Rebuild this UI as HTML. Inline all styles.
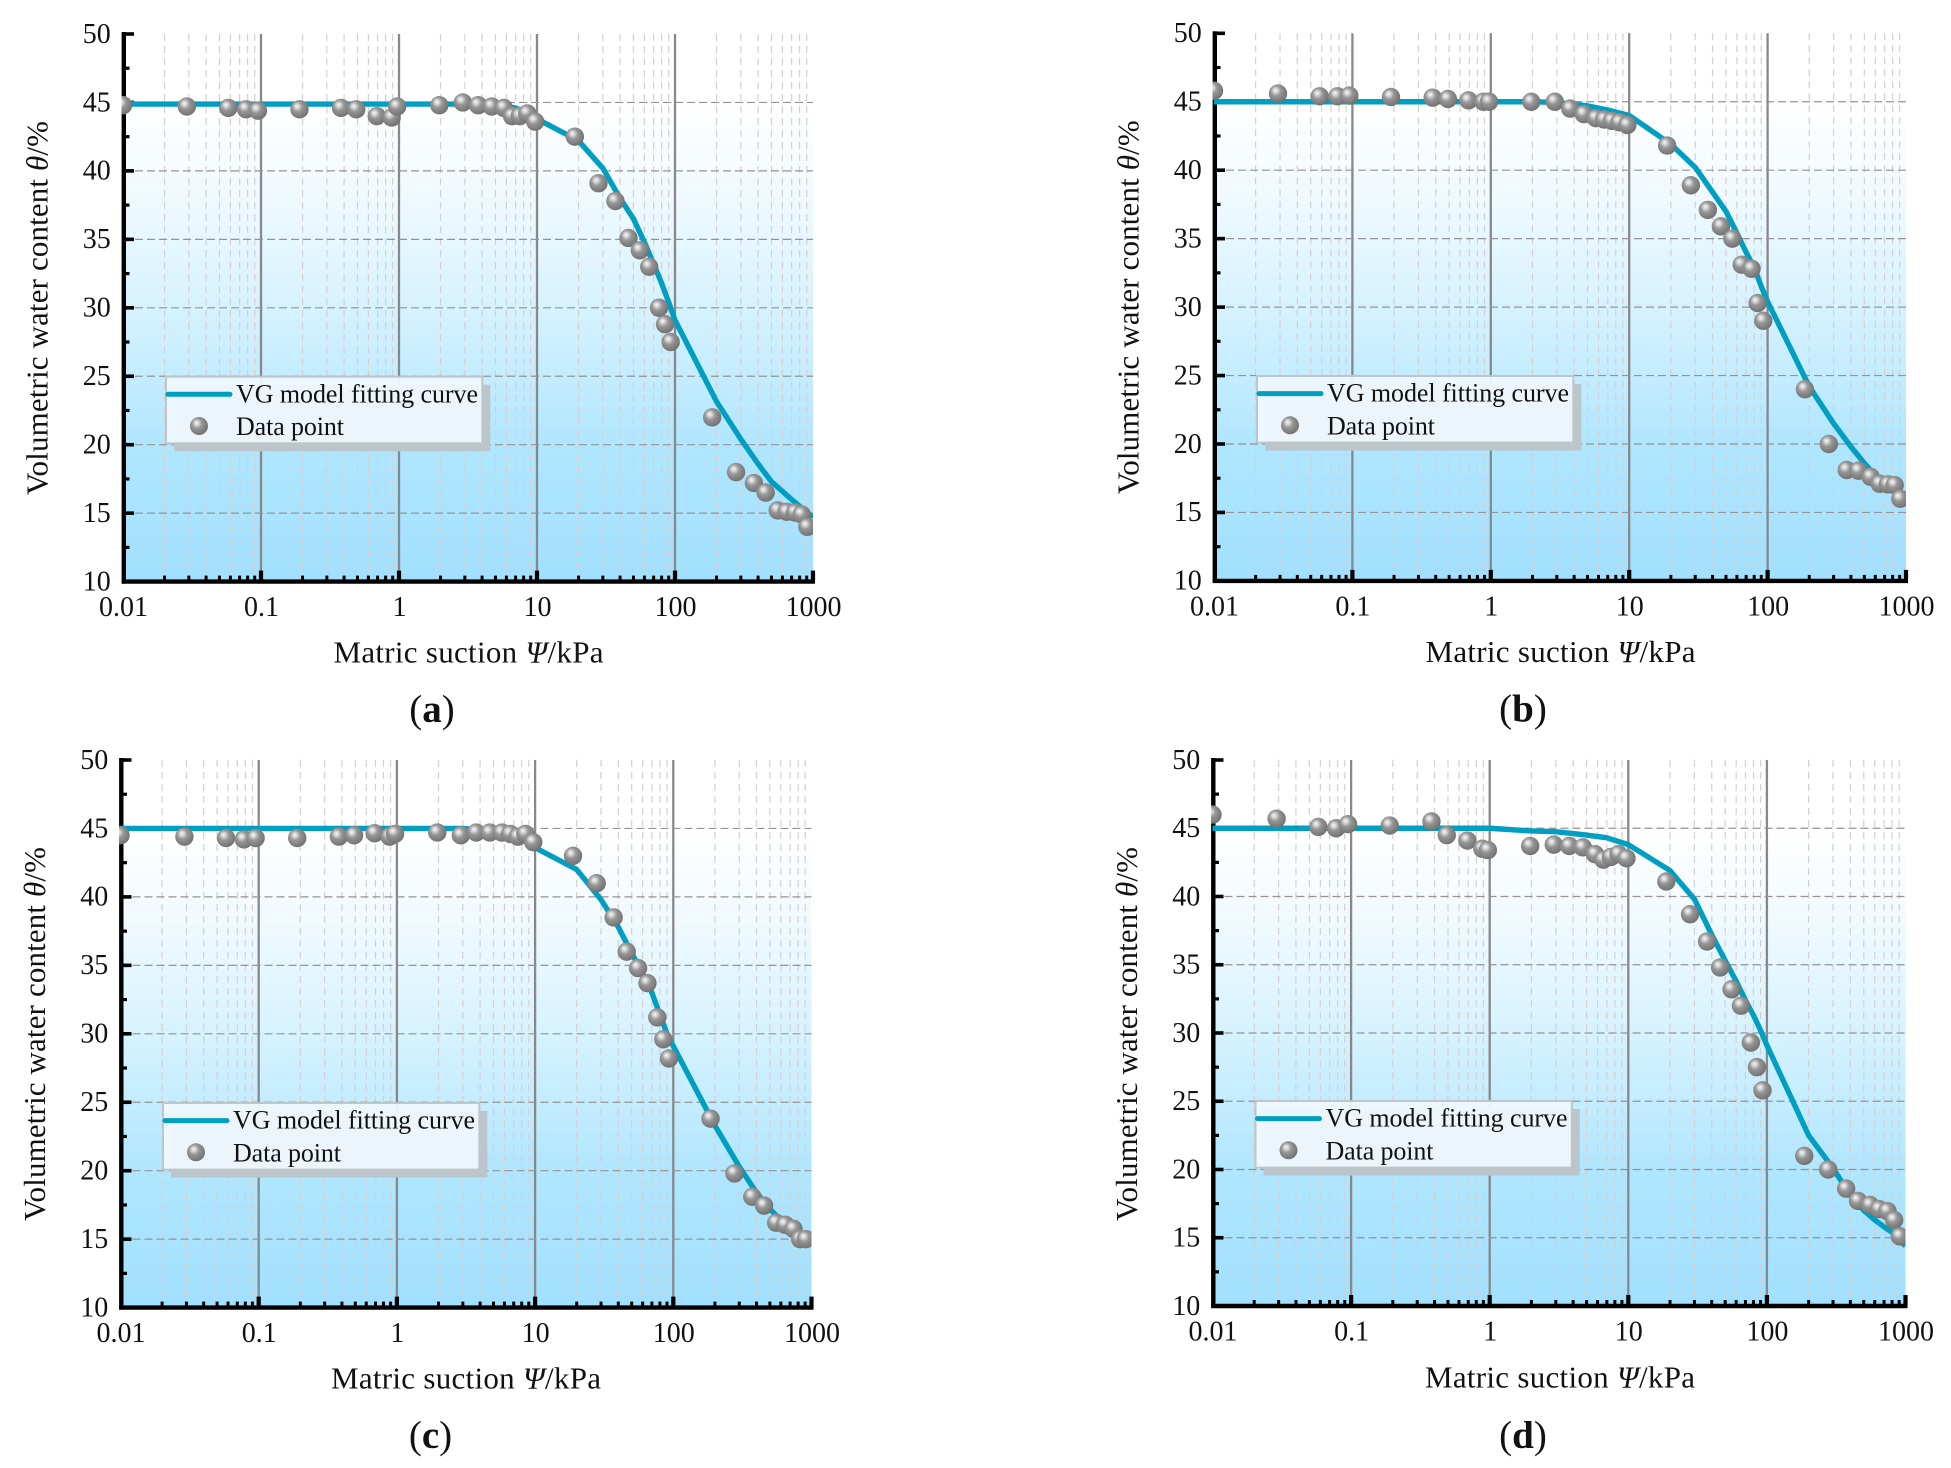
<!DOCTYPE html>
<html lang="en">
<head>
<meta charset="utf-8">
<title>Soil water characteristic curves</title>
<style>
  html, body { margin: 0; padding: 0; background: #fff; }
  svg { display: block; font-family: "Liberation Serif", serif; fill: #111; }
  .tick { font-size: 28px; }
  .title { font-size: 31px; }
  .legend-text { font-size: 26px; }
  .caption { font-size: 39px; }
</style>
</head>
<body>
<svg xmlns="http://www.w3.org/2000/svg" width="1951" height="1468" viewBox="0 0 1951 1468">
  <defs>
    <linearGradient id="plot-fill" x1="0" y1="0" x2="0" y2="1">
      <stop offset="0" stop-color="#ffffff"/>
      <stop offset="0.125" stop-color="#ffffff"/>
      <stop offset="0.25" stop-color="#f5fbff"/>
      <stop offset="0.375" stop-color="#e6f7ff"/>
      <stop offset="0.5" stop-color="#d6f2ff"/>
      <stop offset="0.625" stop-color="#c4ecff"/>
      <stop offset="0.75" stop-color="#b0e6ff"/>
      <stop offset="1" stop-color="#a2e0ff"/>
    </linearGradient>
    <radialGradient id="sphere" cx="0.42" cy="0.4" r="0.62" fx="0.36" fy="0.32">
      <stop offset="0" stop-color="#f6f6f6"/>
      <stop offset="0.18" stop-color="#d8d8d8"/>
      <stop offset="0.45" stop-color="#969696"/>
      <stop offset="1" stop-color="#707070"/>
    </radialGradient>
  </defs>

  <g id="panel-a" transform="translate(123,34)">
    <g class="plot-layer"></g>
    <text class="title" x="-75.3" y="274" text-anchor="middle" textLength="374" transform="rotate(-90 -75.3 274)">Volumetric water content <tspan font-style="italic">θ</tspan>/%</text>
    <text class="title" x="210.5" y="628.7" textLength="270">Matric suction <tspan font-style="italic">Ψ</tspan>/kPa</text>
    <text class="caption" x="309" y="688" text-anchor="middle">(<tspan font-weight="bold">a</tspan>)</text>
    <g transform="translate(43,342.7)">
      <rect x="8" y="8" width="316.3" height="66.6" fill="#bcc5cb"/>
      <rect x="0" y="0" width="316.3" height="66.6" fill="#f0f9fe" fill-opacity="0.93" stroke="#bfc6ca" stroke-width="2"/>
      <line x1="2" y1="17.6" x2="64" y2="17.6" stroke="#009fc2" stroke-width="5" stroke-linecap="round"/>
      <circle cx="33" cy="49.3" r="9" fill="url(#sphere)"/>
      <text class="legend-text" x="70" y="25.6" textLength="242">VG model fitting curve</text>
      <text class="legend-text" x="70" y="58.3" textLength="108">Data point</text>
    </g>
  </g>

  <g id="panel-b" transform="translate(1214,33.3)">
    <g class="plot-layer"></g>
    <text class="title" x="-75.3" y="274" text-anchor="middle" textLength="374" transform="rotate(-90 -75.3 274)">Volumetric water content <tspan font-style="italic">θ</tspan>/%</text>
    <text class="title" x="211.5" y="628.7" textLength="270">Matric suction <tspan font-style="italic">Ψ</tspan>/kPa</text>
    <text class="caption" x="309" y="688" text-anchor="middle">(<tspan font-weight="bold">b</tspan>)</text>
    <g transform="translate(43,342.7)">
      <rect x="8" y="8" width="316.3" height="66.6" fill="#bcc5cb"/>
      <rect x="0" y="0" width="316.3" height="66.6" fill="#f0f9fe" fill-opacity="0.93" stroke="#bfc6ca" stroke-width="2"/>
      <line x1="2" y1="17.6" x2="64" y2="17.6" stroke="#009fc2" stroke-width="5" stroke-linecap="round"/>
      <circle cx="33" cy="49.3" r="9" fill="url(#sphere)"/>
      <text class="legend-text" x="70" y="25.6" textLength="242">VG model fitting curve</text>
      <text class="legend-text" x="70" y="58.3" textLength="108">Data point</text>
    </g>
  </g>

  <g id="panel-c" transform="translate(120.5,760)">
    <g class="plot-layer"></g>
    <text class="title" x="-75.3" y="274" text-anchor="middle" textLength="374" transform="rotate(-90 -75.3 274)">Volumetric water content <tspan font-style="italic">θ</tspan>/%</text>
    <text class="title" x="210.5" y="628.7" textLength="270">Matric suction <tspan font-style="italic">Ψ</tspan>/kPa</text>
    <text class="caption" x="310" y="688" text-anchor="middle">(<tspan font-weight="bold">c</tspan>)</text>
    <g transform="translate(42.5,343)">
      <rect x="8" y="8" width="316.3" height="66.6" fill="#bcc5cb"/>
      <rect x="0" y="0" width="316.3" height="66.6" fill="#f0f9fe" fill-opacity="0.93" stroke="#bfc6ca" stroke-width="2"/>
      <line x1="2" y1="17.6" x2="64" y2="17.6" stroke="#009fc2" stroke-width="5" stroke-linecap="round"/>
      <circle cx="33" cy="49.3" r="9" fill="url(#sphere)"/>
      <text class="legend-text" x="70" y="25.6" textLength="242">VG model fitting curve</text>
      <text class="legend-text" x="70" y="58.3" textLength="108">Data point</text>
    </g>
  </g>

  <g id="panel-d" transform="translate(1212.5,760)">
    <g class="plot-layer"></g>
    <text class="title" x="-75.3" y="274" text-anchor="middle" textLength="374" transform="rotate(-90 -75.3 274)">Volumetric water content <tspan font-style="italic">θ</tspan>/%</text>
    <text class="title" x="212.5" y="627.7" textLength="270">Matric suction <tspan font-style="italic">Ψ</tspan>/kPa</text>
    <text class="caption" x="310.5" y="688" text-anchor="middle">(<tspan font-weight="bold">d</tspan>)</text>
    <g transform="translate(43,341)">
      <rect x="8" y="8" width="316.3" height="66.6" fill="#bcc5cb"/>
      <rect x="0" y="0" width="316.3" height="66.6" fill="#f0f9fe" fill-opacity="0.93" stroke="#bfc6ca" stroke-width="2"/>
      <line x1="2" y1="17.6" x2="64" y2="17.6" stroke="#009fc2" stroke-width="5" stroke-linecap="round"/>
      <circle cx="33" cy="49.3" r="9" fill="url(#sphere)"/>
      <text class="legend-text" x="70" y="25.6" textLength="242">VG model fitting curve</text>
      <text class="legend-text" x="70" y="58.3" textLength="108">Data point</text>
    </g>
  </g>
</svg>

<script>
// ---- Data ----
const xDecades = [0.01, 0.1, 1, 10, 100, 1000];
const xTickLabels = ['0.01', '0.1', '1', '10', '100', '1000'];
const xMinorFactors = [2, 3, 4, 5, 6, 7, 8, 9];
const yMajorTicks = [10, 15, 20, 25, 30, 35, 40, 45, 50];
const yMinorTicks = [12.5, 17.5, 22.5, 27.5, 32.5, 37.5, 42.5, 47.5];
const yGridLines = [15, 20, 25, 30, 35, 40, 45];

const suctionPoints = [0.01,0.029,0.058,0.078,0.095,0.19,0.38,0.49,0.69,0.885,0.97,1.96,2.9,3.75,4.7,5.75,6.6,7.5,8.5,9.7,18.8,27.9,37,46,55.6,65,76.6,84.7,93,186,277,373,454,555,645,741,828,910];
const pointsA = [44.8,44.7,44.6,44.5,44.4,44.5,44.6,44.5,44,43.9,44.7,44.8,45,44.8,44.7,44.6,44,44,44.2,43.6,42.5,39.1,37.8,35.1,34.2,33,30,28.8,27.5,22,18,17.2,16.5,15.2,15.1,15.05,14.9,14];
const pointsB = [45.8,45.6,45.4,45.4,45.45,45.35,45.3,45.2,45.1,45,45,45,45,44.5,44.1,43.8,43.7,43.6,43.5,43.3,41.8,38.9,37.1,35.9,35,33.1,32.8,30.3,29,24,20,18.1,18.05,17.6,17.1,17.05,17,16];
const pointsC = [44.5,44.4,44.3,44.2,44.3,44.3,44.4,44.5,44.65,44.4,44.6,44.7,44.5,44.7,44.7,44.7,44.6,44.4,44.6,44,43,41,38.5,36,34.8,33.7,31.2,29.6,28.2,23.8,19.8,18.1,17.45,16.2,16.05,15.75,15,15];
const pointsD = [46,45.7,45.1,45,45.3,45.2,45.5,44.5,44.1,43.5,43.4,43.7,43.8,43.7,43.6,43.1,42.7,42.9,43.1,42.8,41.1,38.7,36.7,34.8,33.2,32,29.3,27.5,25.8,21,20,18.6,17.7,17.4,17.1,16.95,16.3,15.1];

const suctionCurve = [0.01,0.1,1,2,3,5,7,10,20,30,40,50,60,70,80,90,100,200,300,400,500,600,700,800,1000];
const curveA = [44.88,44.88,44.88,44.88,44.88,44.8,44.6,43.8,42.2,40.2,38,36.5,34.8,33.2,31.8,30.4,29.1,23.15,20.4,18.6,17.3,16.6,16,15.5,14.7];
const curveB = [45,45,45,45,44.95,44.7,44.4,44,41.9,40.2,38.4,37,35.4,34,32.9,31.5,30.4,24.2,21.5,19.8,18.6,17.7,17.1,16.7,15.9];
const curveC = [45,45,45,45,45,44.8,44.6,43.6,42,39.8,37.8,35.9,34.4,33,31.4,30,29.1,23.3,20.3,18.4,17.2,16.4,15.9,15.5,15];
const curveD = [45,45,45,44.8,44.75,44.5,44.3,43.8,41.9,39.8,37.2,35.3,33.8,32.4,31.3,30.2,29.1,22.5,20.1,18.1,17,16.3,15.8,15.4,14.4];

// ---- Drawing ----
const NS = 'http://www.w3.org/2000/svg';
const panelScales = {
  a: { decade: 138, unit: 13.69 },
  b: { decade: 138.4, unit: 13.69 },
  c: { decade: 138.2, unit: 13.69 },
  d: { decade: 138.6, unit: 13.65 }
};

function node(tag, parent, attrs) {
  const el = document.createElementNS(NS, tag);
  for (const k in attrs) el.setAttribute(k, attrs[k]);
  parent.appendChild(el);
  return el;
}

function drawPanel(key, points, curve) {
  const s = panelScales[key];
  const xPos = v => Math.log10(v / 0.01) * s.decade;
  const yPos = v => (50 - v) * s.unit;
  const W = xPos(1000), H = yPos(10);
  const layer = document.querySelector('#panel-' + key + ' .plot-layer');

  const clipId = 'clip-' + key;
  const clip = node('clipPath', layer, { id: clipId });
  node('rect', clip, { x: -1.5, y: -2, width: W + 1.5, height: H + 2 });

  const bg = node('rect', layer, { x: 0, y: 0, width: W, height: H, fill: 'url(#plot-fill)' });
  
  

  // minor vertical grid
  xDecades.slice(0, -1).forEach(d => {
    xMinorFactors.forEach(f => {
      const x = xPos(d * f);
      const g = node('line', layer, { x1: x, y1: 0, x2: x, y2: H, stroke: '#d4d0d0', 'stroke-width': 1.2, 'stroke-dasharray': '7 5' });
      
      
    });
  });
  // major vertical grid
  xDecades.slice(1, -1).forEach(d => {
    const x = xPos(d);
    const g = node('line', layer, { x1: x, y1: 0, x2: x, y2: H, stroke: '#888888', 'stroke-width': 2.3 });
    
    
  });
  // horizontal grid
  yGridLines.forEach(v => {
    const y = yPos(v);
    const g = node('line', layer, { x1: 0, y1: y, x2: W, y2: y, stroke: '#949494', 'stroke-width': 1.2, 'stroke-dasharray': '8 4' });
    
    
  });

  // axes
  const leftAxis = node('line', layer, { x1: 0.8, y1: -2, x2: 0.8, y2: H + 2, stroke: '#000', 'stroke-width': 4.4 });
  
  
  const bottomAxis = node('line', layer, { x1: -1.3, y1: H, x2: W + 2, y2: H, stroke: '#000', 'stroke-width': 4.4 });
  
  

  yMajorTicks.forEach(v => {
    const y = yPos(v);
    const t = node('line', layer, { x1: 1, y1: y, x2: 11, y2: y, stroke: '#000', 'stroke-width': 3.6 });
    
    
    const label = node('text', layer, { class: 'tick', x: -12.3, y: y + 8.8, 'text-anchor': 'end' });
    label.textContent = String(v);
    
    
  });
  yMinorTicks.forEach(v => {
    const y = yPos(v);
    const t = node('line', layer, { x1: 1, y1: y, x2: 6.5, y2: y, stroke: '#000', 'stroke-width': 3.2 });
    
    
  });
  xDecades.forEach((d, i) => {
    const x = xPos(d);
    if (i > 0) {
      const t = node('line', layer, { x1: x, y1: H, x2: x, y2: H - 11, stroke: '#000', 'stroke-width': 4.2 });
      
      
    }
    const label = node('text', layer, { class: 'tick', x: x + 0.5, y: H + 34.4, 'text-anchor': 'middle' });
    label.textContent = xTickLabels[i];
    
    
    if (i < xDecades.length - 1) {
      xMinorFactors.forEach(f => {
        const mx = xPos(d * f);
        const m = node('line', layer, { x1: mx, y1: H, x2: mx, y2: H - 6, stroke: '#000', 'stroke-width': 3 });
        
        
      });
    }
  });

  // series
  const series = node('g', layer, { 'clip-path': 'url(#' + clipId + ')' });
  
  
  const pts = suctionCurve.map((v, i) => xPos(v).toFixed(2) + ',' + yPos(curve[i]).toFixed(2)).join(' ');
  const line = node('polyline', series, { points: pts, fill: 'none', stroke: '#009fc2', 'stroke-width': 5.4, 'stroke-linejoin': 'round' });
  
  
  suctionPoints.forEach((v, i) => {
    const c = node('circle', series, { cx: xPos(v), cy: yPos(points[i]), r: 9.2, fill: 'url(#sphere)' });
    
    
  });
}

drawPanel('a', pointsA, curveA);
drawPanel('b', pointsB, curveB);
drawPanel('c', pointsC, curveC);
drawPanel('d', pointsD, curveD);
</script>
</body>
</html>
